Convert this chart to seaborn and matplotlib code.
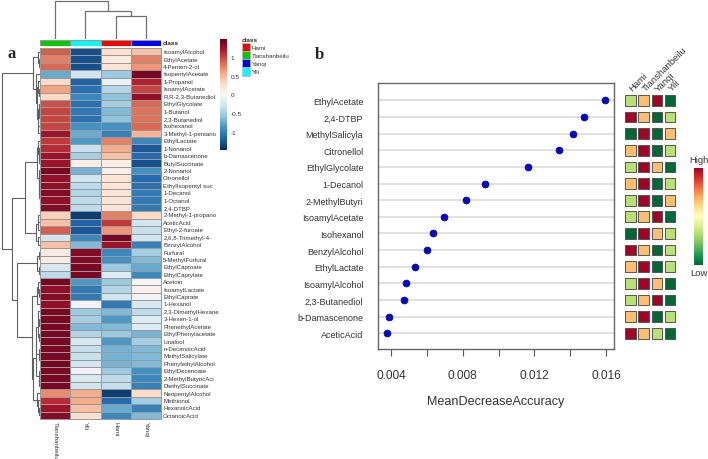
"""Volatile compound heatmap (a) and random forest importance plot (b)."""
import pandas as pd
import numpy as np
import matplotlib
matplotlib.use("Agg")  # non-interactive backend
import matplotlib.pyplot as plt
import seaborn as sns
from matplotlib.cm import ScalarMappable
from matplotlib.colors import ListedColormap, Normalize
from matplotlib.patches import Patch

W, H = 708, 460
sns.set_style("white")
plt.rcParams["font.family"] = ["Liberation Sans", "DejaVu Sans"]

compounds = ["IsoamylAlcohol", "EthylAcetate", "4-Penten-2-ol", "IsopentylAcetate", "1-Propanol",
             "IsoamylAcetate", "R,R-2,3-Butanediol", "EthylGlycolate", "1-Butanol", "2,3-Butanediol",
             "Isohexanol", "3-Methyl-1-pentano", "EthylLactate", "1-Nonanol", "b-Damascenone",
             "ButylSuccinate", "2-Nonanol", "Citronellol", "EthylIsopentyl suc", "1-Decanol",
             "1-Octanol", "2,4-DTBP", "2-Methyl-1-propano", "AceticAcid", "Ethyl-2-furoate",
             "2,6,8-Trimethyl-4-", "BenzylAlcohol", "Furfural", "5-MethylFurfural", "EthylCaproate",
             "EthylCaprylate", "Acetoin", "IsoamylLactate", "EthylCaprate", "1-Hexanol",
             "2,3-DimethylHexane", "3-Hexen-1-ol", "PhenethylAcetate", "EthylPhenylacetate", "Linalool",
             "n-DecanoicAcid", "MethylSalicylate", "PhenylethylAlcohol", "EthylDecenoate",
             "2-MethylButyricAci", "DiethylSuccinate", "NeopentylAlcohol", "Methionol", "HexanoicAcid",
             "OctanoicAcid"]
tianshanbeilu = [0.9, 0.75, 0.85, -0.75, 0.3, 0.6, 0.3, 0.95, 1.0, 1.0, 1.0, 1.25, 1.05, 1.1, 1.25, 1.25,
                 1.4, 1.3, 1.3, 1.35, 1.3, 1.35, 0.35, 0.45, 0.9, -0.3, 0.45, 0.12, 0.12, -0.25, -0.4, 1.4,
                 1.3, 1.35, 1.3, 1.4, 1.4, 1.4, 1.4, 1.4, 1.4, 1.4, 1.4, 1.4, 1.4, 1.4, 0.7, 1.1, 1.25, 1.35]
yili = [-1.3, -1.3, -1.3, -0.3, -1.2, -1.1, -0.95, -1.1, -1.05, -1.1, -0.9, -0.75, -0.85, -0.35, -0.5, 0.1,
        -0.7, -0.3, -0.4, -0.45, -0.4, -0.4, -1.4, -1.2, -1.25, -0.95, -0.65, 1.35, 1.35, 1.4, 1.4, -0.85,
        -1.05, -1.05, -0.05, -0.55, -0.5, -0.65, -0.45, -0.25, -0.35, -0.35, -0.3, -0.05, -0.25, -0.3,
        0.55, 0.55, 0.45, 0.25]
hami = [0.25, 0.15, 0.2, -0.55, -0.1, -0.45, -0.6, -0.5, -0.65, -0.6, -0.9, -1.0, 0.75, 0.55, 0.45, 0.1,
        0.1, 0.2, 0.2, 0.2, 0.2, 0.2, 0.75, 1.05, 0.65, 1.4, 1.25, -0.95, -0.9, -0.55, -0.2, -0.55, -0.45,
        -0.3, -1.05, -0.65, -0.85, -0.65, -0.55, -0.85, -0.7, -0.7, -0.7, -0.55, -0.4, -0.35, -1.4, -1.15,
        -0.75, -0.95]
yanqi = [0.45, 0.75, 0.65, 1.4, 1.15, 1.0, 1.3, 0.85, 0.8, 0.8, 0.85, 0.5, -0.95, -1.25, -1.15, -1.3, -0.9,
         -1.15, -1.1, -1.05, -1.05, -1.05, 0.3, -0.3, -0.35, -0.3, -1.0, -0.5, -0.65, -0.75, -0.95, -0.03,
         0.08, -0.05, -0.25, -0.4, -0.2, -0.2, -0.7, -0.5, -0.65, -0.65, -0.65, -0.9, -0.95, -1.0, 0.3,
         -0.5, -1.0, -0.65]
heat_columns = ["Tianshanbeilu", "Yili", "Hami", "Yanqi"]
cbar_ticks = [-1, -0.5, 0, 0.5, 1]
cbar_labels = ["-1", "-0.5", "0", "0.5", "1"]

# class legend order and colours
classes = ["Hami", "Tianshanbeilu", "Yanqi", "Yili"]
class_colors = {"Hami": "#ff0000", "Tianshanbeilu": "#00cc00", "Yanqi": "#0000ff", "Yili": "#00ffff"}

# dendrograms: (merge height, child, child), a child int is a leaf index
col_tree = (1.0, 0, (0.72, 1, (0.59, 2, 3)))
top_a = (0.17, (0.04, 0, (0.02, 1, 2)),
         (0.11, 3, (0.08, (0.05, 4, (0.03, 5, 6)), (0.065, (0.03, 7, (0.015, 8, 9)), (0.04, 10, 11)))))
mid_b = (0.40, (0.08, (0.05, 12, (0.03, 13, (0.02, 14, 15))),
                (0.035, 16, (0.025, 17, (0.018, 18, (0.012, 19, (0.008, 20, 21)))))),
         (0.10, (0.06, (0.04, 22, 23), 24), (0.065, 25, 26)))
low_c = (0.61, (0.09, (0.02, 27, 28), (0.035, 29, 30)),
         (0.20, (0.09, (0.04, 31, (0.02, 32, 33)), 34),
          (0.185, (0.11, (0.105, (0.06, (0.04, 35, (0.025, 36, 37)), (0.03, 38, 39)),
                          (0.02, 40, (0.012, 41, 42))),
                   (0.025, 43, (0.015, 44, 45))),
           (0.09, 46, (0.06, 47, (0.03, 48, 49))))))
row_tree = (1.0, top_a, (0.74, mid_b, low_c))

# panel b
features = ["EthylAcetate", "2,4-DTBP", "MethylSalicyla", "Citronellol", "EthylGlycolate", "1-Decanol",
            "2-MethylButyri", "IsoamylAcetate", "Isohexanol", "BenzylAlcohol", "EthylLactate",
            "IsoamylAlcohol", "2,3-Butanediol", "b-Damascenone", "AceticAcid"]
accuracy = [0.01596, 0.01475, 0.01417, 0.01340, 0.01162, 0.00923, 0.00817, 0.00696, 0.00635, 0.00599,
            0.00532, 0.00480, 0.00473, 0.00386, 0.00374]
x_ticks = [0.004, 0.006, 0.008, 0.010, 0.012, 0.014, 0.016]
x_tick_labels = ["0.004", "", "0.008", "", "0.012", "", "0.016"]
# 1 low, 2 light green, 3 orange, 4 high
level_hami = [2, 4, 1, 3, 2, 3, 2, 2, 1, 4, 3, 2, 2, 3, 4]
level_tian = [3, 3, 4, 4, 4, 4, 4, 3, 4, 3, 4, 4, 3, 4, 3]
level_yanqi = [4, 1, 1, 1, 3, 1, 1, 4, 3, 1, 1, 3, 4, 1, 2]
level_yili = [1, 2, 3, 2, 1, 2, 3, 1, 2, 2, 2, 1, 1, 2, 1]


def axes_px(fig, left, top, right, bottom):
    return fig.add_axes([left / W, 1 - bottom / H, (right - left) / W, (bottom - top) / H])


def draw_tree(ax, node, vertical, color, lw):
    """Draw the node and return its (leaf position, height)."""
    if isinstance(node, int):
        return node + 0.5, 0.0
    h, left, right = node
    p1, h1 = draw_tree(ax, left, vertical, color, lw)
    p2, h2 = draw_tree(ax, right, vertical, color, lw)
    pos, heights = [p1, p1, p2, p2], [h1, h, h, h2]
    if vertical:
        ax.plot(pos, heights, color=color, lw=lw, solid_joinstyle="miter")
    else:
        ax.plot(heights, pos, color=color, lw=lw, solid_joinstyle="miter")
    return (p1 + p2) / 2, h


def main():
    fig = plt.figure(figsize=(W / 100, H / 100), dpi=100)
    fig.patch.set_facecolor("white")

    # a: heatmap
    df = pd.DataFrame({"Tianshanbeilu": tianshanbeilu, "Yili": yili, "Hami": hami, "Yanqi": yanqi},
                      index=compounds)[heat_columns]
    ax = axes_px(fig, 40, 49, 161, 420)
    cax = axes_px(fig, 219.7, 40, 227, 150.7)
    sns.heatmap(df, cmap="RdBu_r", vmin=-1.48, vmax=1.48, linewidths=0.7, linecolor="#999999",
                xticklabels=True, yticklabels=True, ax=ax, cbar_ax=cax, cbar_kws={"ticks": cbar_ticks})
    ax.yaxis.tick_right()
    ax.tick_params(length=0, pad=1.6, colors="#333333")
    ax.set_yticklabels(compounds, rotation=0, fontsize=4.4, va="center")
    ax.set_xticklabels(heat_columns, rotation=270, fontsize=4.4, va="top", ha="center")
    ax.set_xlabel("")
    ax.set_ylabel("")
    for spine in ax.spines.values():
        spine.set_visible(True)
        spine.set_color("#999999")
        spine.set_linewidth(0.7)
    cax.set_yticklabels(cbar_labels)
    cax.tick_params(length=0, labelsize=4.6, pad=2.5, colors="#333333")
    ax.collections[0].colorbar.outline.set_visible(False)

    # class strip above the heatmap
    bar = axes_px(fig, 40, 40.7, 161, 47)
    strip = ListedColormap([class_colors[c] for c in heat_columns])
    sns.heatmap(np.arange(4).reshape(1, 4), cmap=strip, cbar=False, linewidths=0.5, linecolor="#999999",
                xticklabels=False, yticklabels=False, ax=bar)
    fig.text(163 / W, 1 - 43.8 / H, "class", fontsize=4.6, fontweight="bold", va="center", color="#222222")

    # dendrograms
    top = axes_px(fig, 40, 0, 161, 39.5)
    draw_tree(top, col_tree, True, "#707070", 0.9)
    top.set_xlim(0, 4)
    top.set_ylim(0, 1.045)
    top.axis("off")
    side = axes_px(fig, 0, 49, 40, 420)
    draw_tree(side, row_tree, False, "#606060", 0.8)
    side.set_xlim(1.044, 0)
    side.set_ylim(50, 0)
    side.axis("off")

    # class legend
    handles = [Patch(facecolor=class_colors[c], edgecolor="#bbbbbb", linewidth=0.5) for c in classes]
    leg = fig.legend(handles=handles, labels=classes, title="class", loc="upper left",
                     bbox_to_anchor=(242 / W, 1 - 38.5 / H), frameon=False, fontsize=4.4,
                     borderpad=0, borderaxespad=0, handlelength=1.27, handleheight=1.7,
                     handletextpad=0.35, labelspacing=0.0,
                     title_fontproperties={"weight": "bold", "size": 4.6}, alignment="left")
    for text in leg.get_texts():
        text.set_color("#333333")

    # b: importance dot plot
    dots = axes_px(fig, 377.7, 84.3, 614, 350.3)
    sns.scatterplot(x=accuracy, y=features, color="#0000e6", edgecolor="#101060", linewidth=0.6, s=24,
                    zorder=3, ax=dots, clip_on=False)
    for i in range(len(features)):
        dots.axhline(i, color="#d9d9d9", lw=1.1, zorder=1)
    dots.set_ylim(14.96, -1.02)
    dots.set_xlim(0.00324, 0.01645)
    dots.set_xticks(x_ticks)
    dots.set_xticklabels(x_tick_labels)
    dots.tick_params(axis="x", length=5, width=0.8, color="#555555", labelsize=8.6, pad=9, labelcolor="#333333",
                     bottom=True)
    dots.tick_params(axis="y", length=0, labelsize=6.5, pad=10.4, labelcolor="#333333")
    dots.set_xlabel("MeanDecreaseAccuracy", fontsize=9.1, color="#333333", labelpad=10)
    for spine in dots.spines.values():
        spine.set_visible(True)
        spine.set_color("#666666")
        spine.set_linewidth(1)

    # b: class levels beside the dots
    levels = pd.DataFrame({"Hami": level_hami, "Tianshanbeilu": level_tian, "Yanqi": level_yanqi,
                           "Yili": level_yili}, index=features)
    long_levels = levels.rename_axis("feature").reset_index().melt(id_vars="feature", var_name="cls",
                                                                   value_name="level")
    norm = Normalize(1, 4)
    cmap = plt.get_cmap("RdYlGn_r")
    tile = axes_px(fig, 623.9, 93, 676.7, 342.6)
    sns.scatterplot(data=long_levels, x="cls", y="feature", hue="level", marker="s", s=60,
                    palette={v: cmap(norm(v)) for v in (1, 2, 3, 4)}, edgecolor="#555555", linewidth=0.7,
                    legend=False, ax=tile, clip_on=False)
    tile.set_xlim(-0.5, 3.5)
    tile.set_ylim(14.5, -0.5)
    tile.axis("off")
    for j, name in enumerate(classes):
        tile.text(j, -0.66, name, rotation=45, rotation_mode="anchor", ha="left", va="center",
                  fontsize=6.8, color="#333333")

    bar2 = axes_px(fig, 694.3, 169.3, 703, 266)
    cb = fig.colorbar(ScalarMappable(norm=norm, cmap=cmap), cax=bar2, ticks=[])
    cb.outline.set_visible(False)
    fig.text(698.5 / W, 1 - 161 / H, "High", fontsize=6.8, ha="center", va="center", color="#333333")
    fig.text(698.5 / W, 1 - 273 / H, "Low", fontsize=6.8, ha="center", va="center", color="#333333")

    # panel letters
    fig.text(7 / W, 1 - 54 / H, "a", family="Liberation Serif", fontsize=12, fontweight="bold", va="center")
    fig.text(315 / W, 1 - 55 / H, "b", family="Liberation Serif", fontsize=12, fontweight="bold", va="center")

    fig.savefig("out.png", dpi=100)
    plt.close(fig)


if __name__ == "__main__":
    main()
